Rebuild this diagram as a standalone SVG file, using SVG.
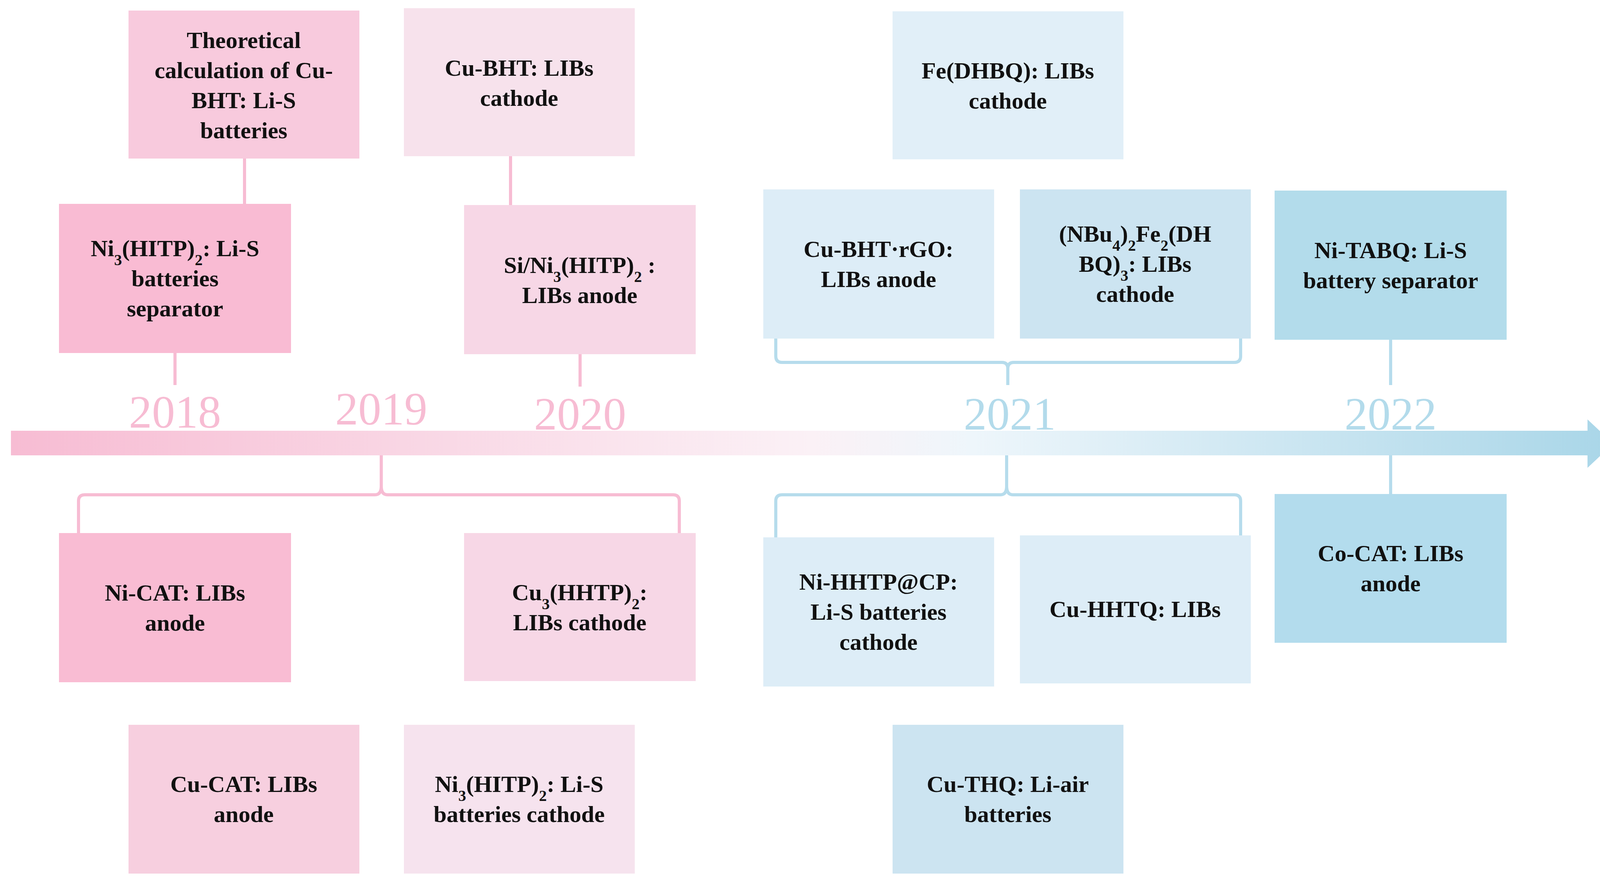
<svg xmlns="http://www.w3.org/2000/svg" width="4136" height="2256" viewBox="0 0 4136 2256">
<style>
text{font-family:"Liberation Serif","Times New Roman",serif;font-weight:bold;font-size:60px;fill:#111;text-anchor:middle}
.yr{font-weight:normal;font-size:118px}
.p{fill:#f7bcd3}.b{fill:#b3dbeb}
.lp{stroke:#f7bcd3;stroke-width:8;fill:none}
.lb{stroke:#b6dcec;stroke-width:8;fill:none}
tspan.s{font-size:40px;baseline-shift:sub}
</style>
<defs>
<linearGradient id="g" x1="0" x2="1" y1="0" y2="0">
<stop offset="0" stop-color="#f7bcd3"/>
<stop offset="0.5" stop-color="#fbf1f6"/>
<stop offset="0.6" stop-color="#eef6fb"/>
<stop offset="1" stop-color="#a9d6e8"/>
</linearGradient>
</defs>
<rect width="4136" height="2256" fill="#fff"/>
<g id="axis">
<path d="M28 1103 H4064 V1074 L4130 1136 L4064 1198 V1166 H28 Z" fill="url(#g)"/>
</g>
<g id="years">
<text class="yr p" x="448" y="1095">2018</text>
<text class="yr p" x="976" y="1087">2019</text>
<text class="yr p" x="1485" y="1100">2020</text>
<text class="yr b" x="2585" y="1100">2021</text>
<text class="yr b" x="3560" y="1100">2022</text>
</g>
<g id="connectors">
<path class="lp" d="M626 406 V522"/>
<path class="lp" d="M448 904 V986"/>
<path class="lp" d="M1307 400 V525"/>
<path class="lp" d="M1485 907 V990"/>
<path class="lb" d="M1986 867 V912 Q1986 928 2002 928 H2565 Q2580 928 2580 944 V986 M2580 944 Q2580 928 2595 928 H3160 Q3176 928 3176 912 V867"/>
<path class="lb" d="M3560 870 V986"/>
<path class="lp" d="M976 1166 V1245 Q976 1267 960 1267 H217 Q201 1267 201 1283 V1365 M976 1245 Q976 1267 992 1267 H1723 Q1739 1267 1739 1283 V1365"/>
<path class="lb" d="M2577 1166 V1245 Q2577 1267 2561 1267 H2002 Q1986 1267 1986 1283 V1376 M2577 1245 Q2577 1267 2593 1267 H3160 Q3176 1267 3176 1283 V1371"/>
<path class="lb" d="M3560 1166 V1265"/>
</g>
<g id="n1"><rect x="329" y="27" width="591" height="379" fill="#f8cadd"/>
<text x="624" y="123">Theoretical</text><text x="624" y="200">calculation of Cu-</text><text x="624" y="277">BHT: Li-S</text><text x="624" y="354">batteries</text></g>
<g id="n2"><rect x="151" y="522" width="594" height="382" fill="#f9bbd3"/>
<text x="448" y="656">Ni<tspan class="s">3</tspan>(HITP)<tspan class="s">2</tspan>: Li-S</text><text x="448" y="733">batteries</text><text x="448" y="810">separator</text></g>
<g id="n3"><rect x="1034" y="21" width="591" height="379" fill="#f7e2ec"/>
<text x="1329" y="194">Cu-BHT: LIBs</text><text x="1329" y="271">cathode</text></g>
<g id="n4"><rect x="1188" y="525" width="593" height="382" fill="#f7d7e6"/>
<text x="1484" y="699">Si/Ni<tspan class="s">3</tspan>(HITP)<tspan class="s">2</tspan> :</text><text x="1484" y="776">LIBs anode</text></g>
<g id="n5"><rect x="2285" y="29" width="591" height="379" fill="#e1eff8"/>
<text x="2580" y="201">Fe(DHBQ): LIBs</text><text x="2580" y="278">cathode</text></g>
<g id="n6"><rect x="1954" y="485" width="591" height="382" fill="#ddedf7"/>
<text x="2249" y="658">Cu-BHT·rGO:</text><text x="2249" y="735">LIBs anode</text></g>
<g id="n7"><rect x="2611" y="485" width="591" height="382" fill="#cce4f1"/>
<text x="2906" y="619">(NBu<tspan class="s">4</tspan>)<tspan class="s">2</tspan>Fe<tspan class="s">2</tspan>(DH</text><text x="2906" y="696">BQ)<tspan class="s">3</tspan>: LIBs</text><text x="2906" y="773">cathode</text></g>
<g id="n8"><rect x="3263" y="488" width="594" height="382" fill="#b3dceb"/>
<text x="3560" y="661">Ni-TABQ: Li-S</text><text x="3560" y="738">battery separator</text></g>
<g id="n9"><rect x="151" y="1365" width="594" height="382" fill="#f9bcd3"/>
<text x="448" y="1538">Ni-CAT: LIBs</text><text x="448" y="1615">anode</text></g>
<g id="n10"><rect x="1188" y="1365" width="593" height="379" fill="#f7d7e6"/>
<text x="1484" y="1537">Cu<tspan class="s">3</tspan>(HHTP)<tspan class="s">2</tspan>:</text><text x="1484" y="1614">LIBs cathode</text></g>
<g id="n11"><rect x="1954" y="1376" width="591" height="382" fill="#ddedf7"/>
<text x="2249" y="1510">Ni-HHTP@CP:</text><text x="2249" y="1587">Li-S batteries</text><text x="2249" y="1664">cathode</text></g>
<g id="n12"><rect x="2611" y="1371" width="591" height="379" fill="#ddedf7"/>
<text x="2906" y="1580">Cu-HHTQ: LIBs</text></g>
<g id="n13"><rect x="3263" y="1265" width="594" height="381" fill="#b3dced"/>
<text x="3560" y="1437">Co-CAT:  LIBs</text><text x="3560" y="1514">anode</text></g>
<g id="n14"><rect x="329" y="1856" width="591" height="381" fill="#f7cfdf"/>
<text x="624" y="2028">Cu-CAT: LIBs</text><text x="624" y="2105">anode</text></g>
<g id="n15"><rect x="1034" y="1856" width="591" height="381" fill="#f6e3ee"/>
<text x="1329" y="2028">Ni<tspan class="s">3</tspan>(HITP)<tspan class="s">2</tspan>: Li-S</text><text x="1329" y="2105">batteries cathode</text></g>
<g id="n16"><rect x="2285" y="1856" width="591" height="381" fill="#cce4f1"/>
<text x="2580" y="2028">Cu-THQ: Li-air</text><text x="2580" y="2105">batteries</text></g>
</svg>
